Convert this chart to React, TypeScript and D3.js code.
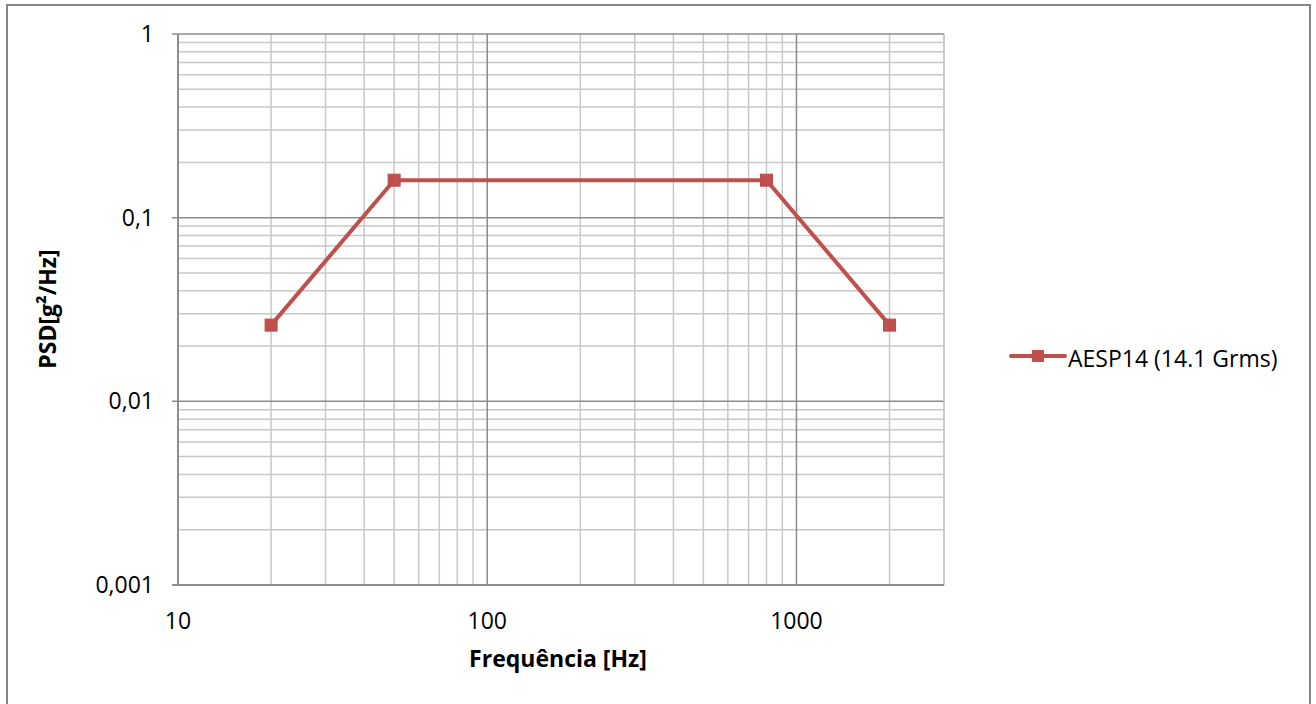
import React from "react";
import * as d3 from "d3";

const freqs = [20, 50, 800, 2000];
const psd = [0.026, 0.16, 0.16, 0.026];
const seriesName = "AESP14 (14.1 Grms)";
const yTicks = [0.001, 0.01, 0.1, 1];
const yTickLabels = ["0,001", "0,01", "0,1", "1"];
const xTicks = [10, 100, 1000];
const xTickLabels = ["10", "100", "1000"];

const W = 1316, H = 704;
const L = 178, R = 944, T = 34, B = 585;
const FONT = "'Open Sans', sans-serif";
const FS = 23;

export default function App() {
  const x = d3.scaleLog().domain([10, 3000]).range([L, R]);
  const y = d3.scaleLog().domain([0.001, 1]).range([B, T]);

  const xMinor: number[] = [];
  for (let d = 10; d < 3000; d *= 10) for (let k = 2; k <= 9; k++) if (d * k <= 3000) xMinor.push(d * k);
  const yMinor: number[] = [];
  for (let d = 0.001; d < 1; d *= 10) for (let k = 2; k <= 9; k++) yMinor.push(d * k);

  const line = d3.line<number>().x((_, i) => x(freqs[i])).y((v) => y(v));

  return (
    <svg width={W} height={H} style={{ position: "absolute", left: 0, top: 0 }}>
      <rect x={0} y={0} width={W} height={H} fill="#fff" />
      <rect x={7} y={5} width={1303} height={720} fill="none" stroke="#868686" strokeWidth={2} />
      {yMinor.map((v, i) => (
        <line key={"ym" + i} x1={L} x2={R} y1={y(v)} y2={y(v)} stroke="#c8c8c8" strokeWidth={1.5} />
      ))}
      {xMinor.map((v, i) => (
        <line key={"xm" + i} x1={x(v)} x2={x(v)} y1={T} y2={B} stroke="#c8c8c8" strokeWidth={1.5} />
      ))}
      {yTicks.map((v, i) => (
        <line key={"yM" + i} x1={L - 6} x2={R} y1={y(v)} y2={y(v)} stroke="#8c8c8c" strokeWidth={1.5} />
      ))}
      {xTicks.map((v, i) => (
        <line key={"xM" + i} x1={x(v)} x2={x(v)} y1={T} y2={B} stroke="#8c8c8c" strokeWidth={1.5} />
      ))}
      <line x1={R} x2={R} y1={T} y2={B} stroke="#c8c8c8" strokeWidth={1.5} />
      <line x1={L} x2={L} y1={T} y2={B} stroke="#868686" strokeWidth={1.5} />
      <line x1={L - 6} x2={R} y1={B} y2={B} stroke="#868686" strokeWidth={1.5} />
      {yTicks.map((v, i) => (
        <text key={"yl" + i} x={154} y={y(v)} dy="0.35em" textAnchor="end" fontFamily={FONT} fontSize={FS} fill="#000">
          {yTickLabels[i]}
        </text>
      ))}
      {xTicks.map((v, i) => (
        <text key={"xl" + i} x={x(v)} y={621} dy="0.35em" textAnchor="middle" fontFamily={FONT} fontSize={FS} fill="#000">
          {xTickLabels[i]}
        </text>
      ))}
      <text x={558} y={659} dy="0.35em" textAnchor="middle" fontFamily={FONT} fontSize={FS} fontWeight="bold" fill="#000">
        Frequência [Hz]
      </text>
      <text transform="translate(48,309) rotate(-90)" dy="0.35em" textAnchor="middle" fontFamily={FONT} fontSize={FS} fontWeight="bold" fill="#000">
        PSD[g²/Hz]
      </text>
      <path d={line(psd) || ""} fill="none" stroke="#C0504D" strokeWidth={4} strokeLinejoin="round" />
      {psd.map((v, i) => (
        <rect key={"m" + i} x={x(freqs[i]) - 6} y={y(v) - 6} width={12} height={12} fill="#C0504D" stroke="#BE4B48" />
      ))}
      <line x1={1011} x2={1065} y1={356} y2={356} stroke="#C0504D" strokeWidth={4} strokeLinecap="round" />
      <rect x={1032} y={350} width={12} height={12} fill="#C0504D" />
      <text x={1068} y={359} dy="0.35em" fontFamily={FONT} fontSize={FS} fill="#000">
        {seriesName}
      </text>
    </svg>
  );
}
